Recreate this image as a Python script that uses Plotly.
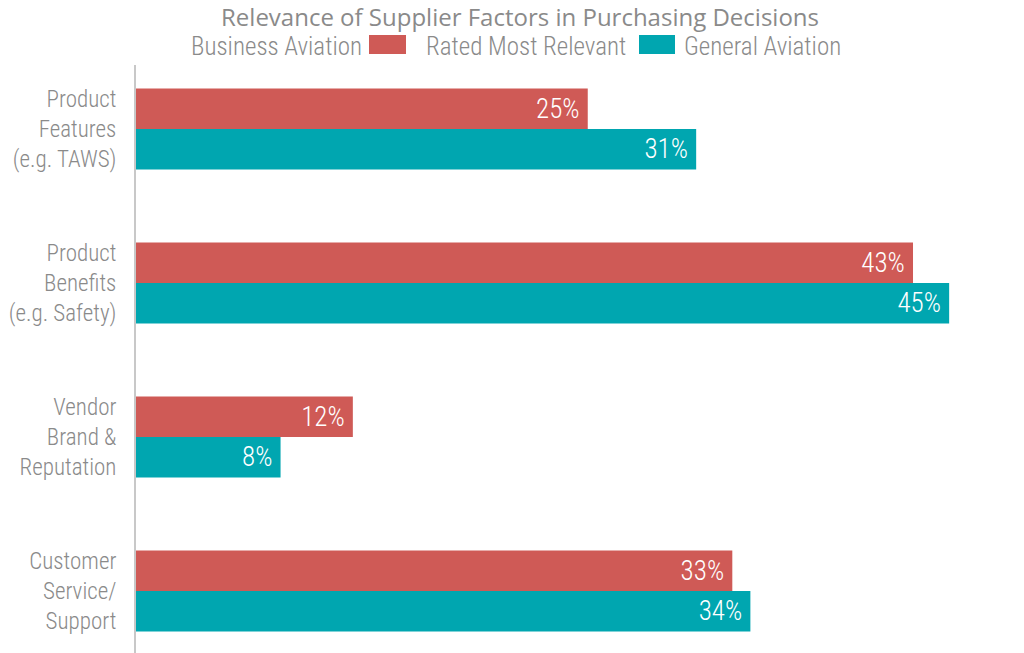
import plotly.graph_objects as go

categories = [
    "Product<br>Features<br>(e.g. TAWS)",
    "Product<br>Benefits<br>(e.g. Safety)",
    "Vendor<br>Brand &<br>Reputation",
    "Customer<br>Service/<br>Support",
]
business_aviation = [25, 43, 12, 33]
general_aviation = [31, 45, 8, 34]

RED = "#CF5A56"
TEAL = "#00A6B0"
GREY = "#8A8A8A"
NARROW = "Roboto Condensed, Liberation Sans Narrow, sans-serif"

# the page adds an 8px body margin, so the figure is laid out 8px up/left
L, T, B = 128, 57, 8
PLOT_W, PLOT_H = 1024 - L, 653 - T - B

pos = list(range(len(categories)))

fig = go.Figure()
for name, vals, color in [("Business Aviation", business_aviation, RED),
                          ("General Aviation", general_aviation, TEAL)]:
    fig.add_trace(go.Bar(
        y=pos, x=vals, orientation="h", name=name,
        marker=dict(color=color, line=dict(width=0)),
        text=[f"{v}%\u2009" for v in vals],
        textposition="inside", insidetextanchor="end",
        textfont=dict(family=NARROW, size=27, color="white", weight=300),
        showlegend=False,
    ))


def px(x):
    # screen pixel x -> paper fraction
    return (x - 8 - L) / PLOT_W


def py(y):
    # screen pixel y -> paper fraction
    return 1 + (T + 8 - y) / PLOT_H


legend_items = [
    ("Business Aviation", 364),
    ("Rated Most Relevant", 628),
    ("General Aviation", 843),
]
annotations = [
    dict(text=t, xref="paper", yref="paper", x=px(xr), y=py(46),
         xanchor="right", yanchor="middle", showarrow=False,
         font=dict(family=NARROW, size=25, color=GREY, weight=300))
    for t, xr in legend_items
]
shapes = [
    dict(type="rect", xref="paper", yref="paper",
         x0=px(x0), x1=px(x1), y0=py(54), y1=py(35),
         fillcolor=c, line=dict(width=0))
    for x0, x1, c in [(369, 406, RED), (639, 675, TEAL)]
]

fig.update_layout(
    width=1024, height=653,
    margin=dict(l=L, r=0, t=T, b=B, autoexpand=False),
    paper_bgcolor="white", plot_bgcolor="white",
    barmode="group", bargap=0.474, bargroupgap=0,
    title=dict(text="Relevance of Supplier Factors in Purchasing Decisions",
               x=0.5, xanchor="center", y=1 - 10 / 653, yanchor="middle",
               font=dict(family="Open Sans, sans-serif", size=24, color=GREY)),
    xaxis=dict(range=[0, PLOT_W / 18.07], visible=False, fixedrange=True),
    yaxis=dict(range=[3.402, -0.416], tickvals=pos, ticktext=categories,
               showgrid=False, zeroline=False, showline=True,
               linecolor="#C8C8C8", linewidth=2, ticks="",
               ticklabelstandoff=13, automargin=False,
               tickfont=dict(family=NARROW, size=23, color=GREY, weight=300)),
    annotations=annotations,
    shapes=shapes,
)

fig.write_html("out.html")
